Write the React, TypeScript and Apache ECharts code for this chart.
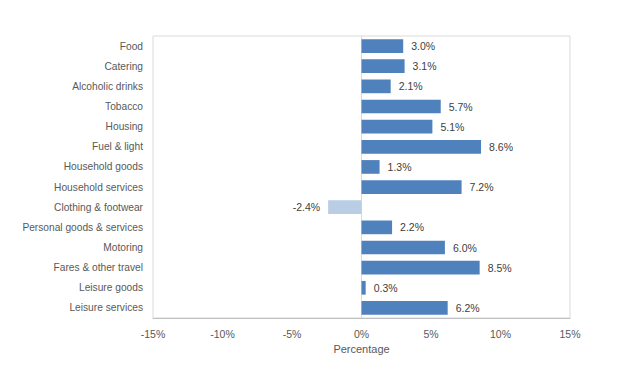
import React, { useEffect, useRef } from "react";
import * as echarts from "echarts";

const categories = [
  "Food",
  "Catering",
  "Alcoholic drinks",
  "Tobacco",
  "Housing",
  "Fuel & light",
  "Household goods",
  "Household services",
  "Clothing & footwear",
  "Personal goods & services",
  "Motoring",
  "Fares & other travel",
  "Leisure goods",
  "Leisure services",
];
const values = [3.0, 3.1, 2.1, 5.7, 5.1, 8.6, 1.3, 7.2, -2.4, 2.2, 6.0, 8.5, 0.3, 6.2];
const xTicks = [-15, -10, -5, 0, 5, 10, 15];

const FONT = "'Liberation Sans', Arial, sans-serif";

export default function App() {
  const ref = useRef<HTMLDivElement>(null);
  useEffect(() => {
    document.body.style.margin = "0";
    const chart = echarts.init(ref.current!, null, { renderer: "svg" });
    chart.setOption({
      animation: false,
      grid: {
        left: 153,
        right: 70,
        top: 36,
        bottom: 51,
        show: true,
        borderColor: "#d9d9d9",
        borderWidth: 1,
        backgroundColor: "#fff",
      },
      xAxis: {
        type: "value",
        min: xTicks[0],
        max: xTicks[xTicks.length - 1],
        interval: 5,
        splitLine: { show: false },
        axisLine: { show: true, lineStyle: { color: "#bfbfbf" } },
        axisTick: { show: false },
        axisLabel: {
          formatter: (v: number) => `${v}%`,
          color: "#595959",
          fontSize: 10.5,
          fontFamily: FONT,
          margin: 10,
        },
        name: "Percentage",
        nameLocation: "middle",
        nameGap: 25,
        nameTextStyle: { color: "#595959", fontSize: 11, fontFamily: FONT },
      },
      yAxis: {
        type: "category",
        data: categories,
        inverse: true,
        axisLine: { show: false },
        axisTick: { show: false },
        axisLabel: {
          color: "#595959",
          fontSize: 10.2,
          fontFamily: FONT,
          margin: 10,
        },
      },
      series: [
        {
          type: "bar",
          barCategoryGap: "32%",
          data: values.map((v) => ({
            value: v,
            itemStyle: { color: v < 0 ? "#b9cde5" : "#4f81bd" },
            label: { position: v < 0 ? "left" : "right" },
          })),
          label: {
            show: true,
            formatter: (p: any) => `${p.value.toFixed(1)}%`,
            color: "#404040",
            fontSize: 10.5,
            fontFamily: FONT,
            distance: 8,
          },
          markLine: {
            silent: true,
            symbol: "none",
            label: { show: false },
            lineStyle: { color: "#d9d9d9", type: "solid", width: 1 },
            data: [{ xAxis: 0 }],
            z: 1,
          },
        },
      ],
    });
    return () => chart.dispose();
  }, []);
  return <div ref={ref} style={{ width: 640, height: 369 }} />;
}
